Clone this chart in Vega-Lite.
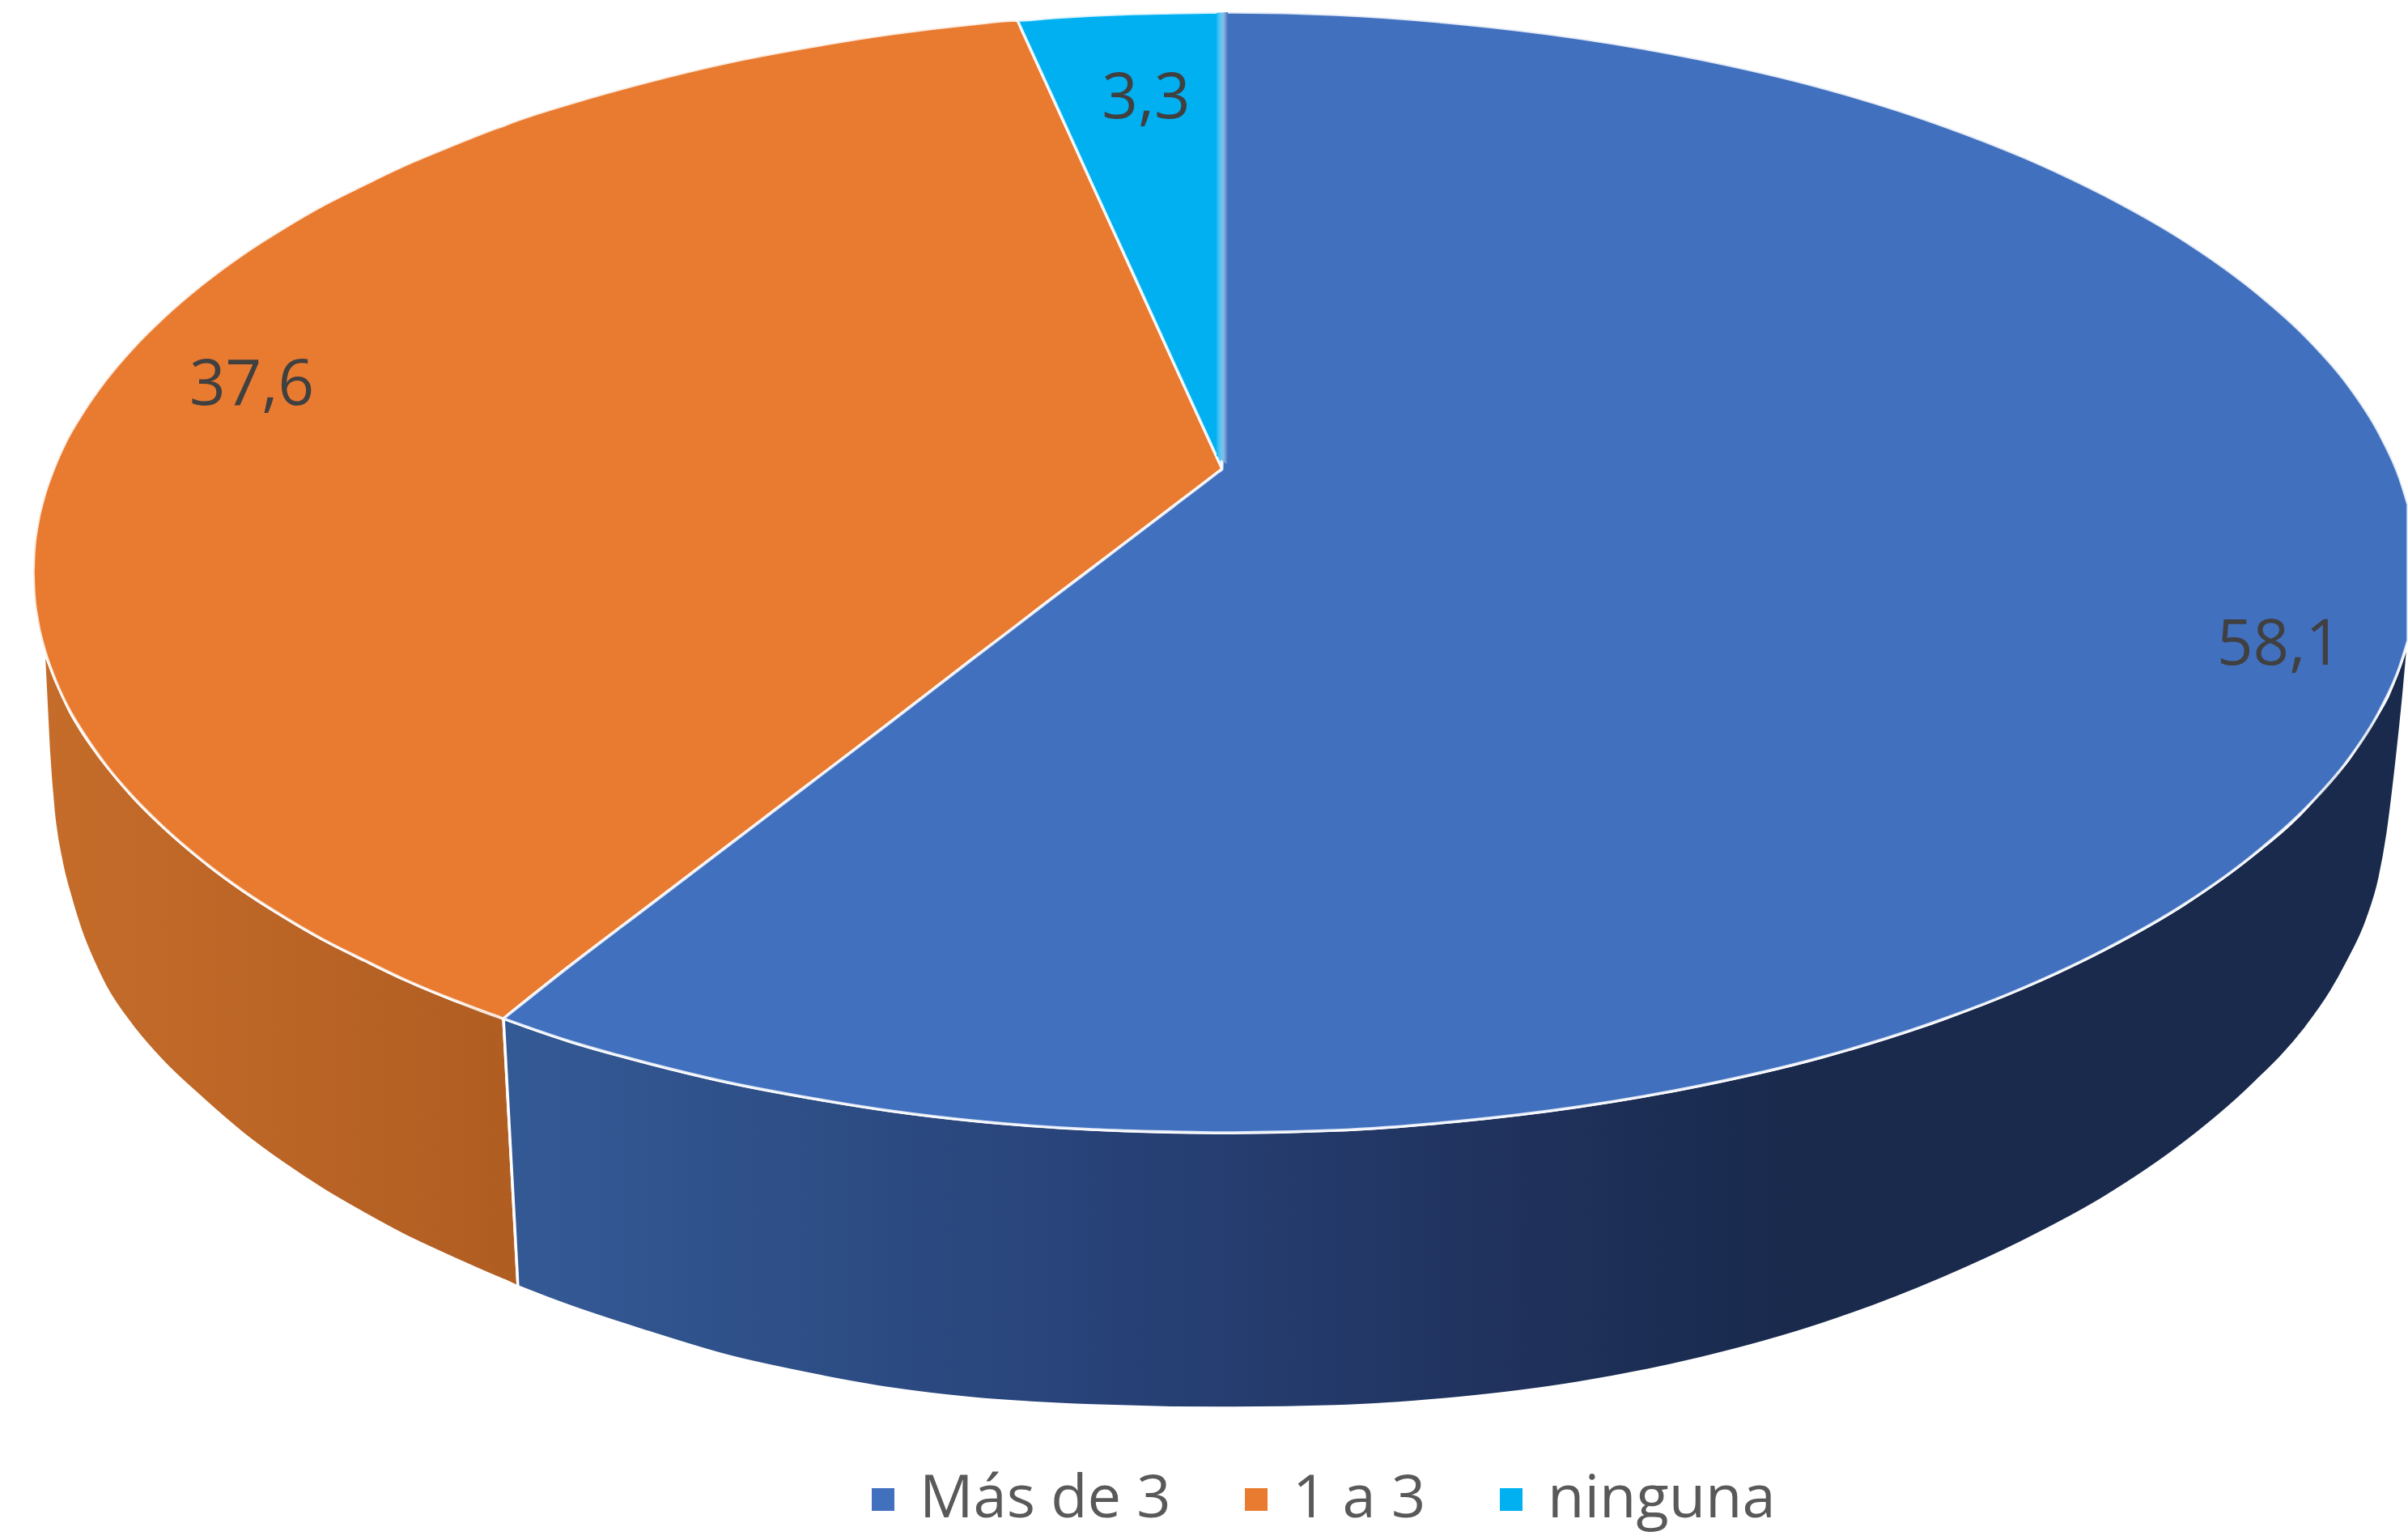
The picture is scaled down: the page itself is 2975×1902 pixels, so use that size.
{
"$schema":"https://vega.github.io/schema/vega-lite/v6.json",
"width":2975,"height":1902,"padding":0,"autosize":{"type":"none"},"background":"white",
"config":{"view":{"stroke":null}},
"datasets":{
"pared_naranja":[
{"x":54,"y":805,"y2":805},{"x":60,"y":818,"y2":925},{"x":66,"y":834,"y2":1002},{"x":76,"y":856,"y2":1065},{"x":87,"y":880,"y2":1108},{"x":100,"y":902,"y2":1150},{"x":115,"y":924,"y2":1187},{"x":130,"y":944,"y2":1218},{"x":163,"y":983,"y2":1267},{"x":200,"y":1020,"y2":1310},{"x":250,"y":1063,"y2":1357},{"x":300,"y":1100,"y2":1400},{"x":350,"y":1132,"y2":1437},{"x":400,"y":1161,"y2":1470},{"x":450,"y":1186,"y2":1499},{"x":500,"y":1210,"y2":1526},{"x":560,"y":1235,"y2":1554},{"x":622,"y":1258,"y2":1581},{"x":623,"y":1276,"y2":1581.4},{"x":639,"y":1571,"y2":1588.6},{"x":640,"y":1589,"y2":1589}],
"pared_azul":[
{"x":622,"y":1258,"y2":1258},{"x":623,"y":1258.3,"y2":1276},{"x":639,"y":1263.8,"y2":1571},{"x":640,"y":1264.1,"y2":1589},{"x":641,"y":1264.5,"y2":1589.4},{"x":700,"y":1285,"y2":1612},{"x":800,"y":1313,"y2":1645},{"x":900,"y":1337,"y2":1675},{"x":1000,"y":1356,"y2":1697},{"x":1100,"y":1372,"y2":1715},{"x":1200,"y":1384,"y2":1727},{"x":1350,"y":1395,"y2":1736},{"x":1508,"y":1399,"y2":1739},{"x":1650,"y":1396,"y2":1737},{"x":1800,"y":1385,"y2":1727},{"x":1950,"y":1367,"y2":1708},{"x":2100,"y":1341,"y2":1678},{"x":2250,"y":1306,"y2":1636},{"x":2400,"y":1259,"y2":1579},{"x":2500,"y":1220,"y2":1533},{"x":2600,"y":1173,"y2":1479},{"x":2700,"y":1116,"y2":1411},{"x":2780,"y":1059,"y2":1343},{"x":2850,"y":997,"y2":1268},{"x":2880,"y":961,"y2":1225},{"x":2900,"y":940,"y2":1189},{"x":2925,"y":900,"y2":1135},{"x":2940,"y":878,"y2":1085},{"x":2950,"y":860,"y2":1030},{"x":2960,"y":835,"y2":950},{"x":2970,"y":808,"y2":855},{"x":2975,"y":791,"y2":800}],
"cara":[
{"categoria":"1 a 3","x":41,"y":707,"y2":707},{"categoria":"1 a 3","x":42,"y":682,"y2":732},{"categoria":"1 a 3","x":46,"y":650,"y2":764},{"categoria":"1 a 3","x":54,"y":615,"y2":799},{"categoria":"1 a 3","x":66,"y":580,"y2":834},{"categoria":"1 a 3","x":82,"y":544,"y2":870},{"categoria":"1 a 3","x":102,"y":510,"y2":904},{"categoria":"1 a 3","x":130,"y":470,"y2":944},{"categoria":"1 a 3","x":163,"y":431,"y2":983},{"categoria":"1 a 3","x":200,"y":394,"y2":1020},{"categoria":"1 a 3","x":250,"y":351,"y2":1063},{"categoria":"1 a 3","x":300,"y":314,"y2":1100},{"categoria":"1 a 3","x":350,"y":282,"y2":1132},{"categoria":"1 a 3","x":400,"y":253,"y2":1161},{"categoria":"1 a 3","x":450,"y":228,"y2":1186},{"categoria":"1 a 3","x":500,"y":204,"y2":1210},{"categoria":"1 a 3","x":560,"y":179,"y2":1235},{"categoria":"1 a 3","x":616,"y":157,"y2":1256},{"categoria":"1 a 3","x":622,"y":155,"y2":1258},{"categoria":"1 a 3","x":627,"y":153,"y2":1254},{"categoria":"1 a 3","x":700,"y":129,"y2":1196},{"categoria":"1 a 3","x":800,"y":101,"y2":1120},{"categoria":"1 a 3","x":900,"y":77,"y2":1044},{"categoria":"1 a 3","x":1000,"y":58,"y2":968},{"categoria":"1 a 3","x":1100,"y":42,"y2":892},{"categoria":"1 a 3","x":1200,"y":30,"y2":815},{"categoria":"1 a 3","x":1257,"y":25,"y2":772},{"categoria":"1 a 3","x":1262,"y":36,"y2":768},{"categoria":"1 a 3","x":1350,"y":229,"y2":701},{"categoria":"1 a 3","x":1450,"y":448,"y2":625},{"categoria":"1 a 3","x":1510,"y":579,"y2":579},
{"categoria":"ninguna","x":1257,"y":25,"y2":25},{"categoria":"ninguna","x":1262,"y":25,"y2":36},{"categoria":"ninguna","x":1300,"y":22,"y2":119},{"categoria":"ninguna","x":1350,"y":19,"y2":229},{"categoria":"ninguna","x":1400,"y":17,"y2":338},{"categoria":"ninguna","x":1450,"y":16,"y2":448},{"categoria":"ninguna","x":1510,"y":15,"y2":579},
{"categoria":"Más de 3","x":622,"y":1258,"y2":1258},{"categoria":"Más de 3","x":627,"y":1254,"y2":1259.8},{"categoria":"Más de 3","x":700,"y":1196,"y2":1285},{"categoria":"Más de 3","x":800,"y":1120,"y2":1313},{"categoria":"Más de 3","x":900,"y":1044,"y2":1337},{"categoria":"Más de 3","x":1000,"y":968,"y2":1356},{"categoria":"Más de 3","x":1100,"y":892,"y2":1372},{"categoria":"Más de 3","x":1200,"y":815,"y2":1384},{"categoria":"Más de 3","x":1350,"y":701,"y2":1395},{"categoria":"Más de 3","x":1450,"y":625,"y2":1398},{"categoria":"Más de 3","x":1505,"y":583,"y2":1399},{"categoria":"Más de 3","x":1510,"y":579,"y2":1399},{"categoria":"Más de 3","x":1511,"y":15,"y2":1399},{"categoria":"Más de 3","x":1650,"y":18,"y2":1396},{"categoria":"Más de 3","x":1800,"y":29,"y2":1385},{"categoria":"Más de 3","x":1950,"y":47,"y2":1367},{"categoria":"Más de 3","x":2100,"y":73,"y2":1341},{"categoria":"Más de 3","x":2250,"y":108,"y2":1306},{"categoria":"Más de 3","x":2400,"y":155,"y2":1259},{"categoria":"Más de 3","x":2500,"y":194,"y2":1220},{"categoria":"Más de 3","x":2600,"y":241,"y2":1173},{"categoria":"Más de 3","x":2700,"y":298,"y2":1116},{"categoria":"Más de 3","x":2780,"y":355,"y2":1059},{"categoria":"Más de 3","x":2850,"y":417,"y2":997},{"categoria":"Más de 3","x":2900,"y":474,"y2":940},{"categoria":"Más de 3","x":2940,"y":536,"y2":878},{"categoria":"Más de 3","x":2965,"y":591,"y2":823},{"categoria":"Más de 3","x":2975,"y":623,"y2":791}],
"banda":[{"x":1503,"y":16,"y2":563},{"x":1517,"y":15,"y2":575}],
"etiquetas":[{"valor":"58,1","x":2816,"y":821},{"valor":"37,6","x":311,"y":500},{"valor":"3,3","x":1416,"y":146}]
},
"encoding":{
"x":{"field":"x","type":"quantitative","scale":{"domain":[0,2975],"nice":false,"zero":false},"axis":null},
"y":{"field":"y","type":"quantitative","scale":{"domain":[0,1902],"nice":false,"zero":false,"reverse":true},"axis":null}
},
"layer":[
{"data":{"name":"pared_naranja"},
"mark":{"type":"area","interpolate":"monotone","stroke":"white","strokeWidth":3.5,"fill":{"gradient":"linear","x1":0,"y1":0,"x2":1,"y2":0,"stops":[{"offset":0,"color":"#C56C2A"},{"offset":1,"color":"#B05D22"}]}},
"encoding":{"y2":{"field":"y2"}}},
{"data":{"name":"pared_azul"},
"mark":{"type":"area","interpolate":"monotone","stroke":"white","strokeWidth":3.5,"fill":{"gradient":"linear","x1":0,"y1":0,"x2":1,"y2":0,"stops":[{"offset":0,"color":"#345A96"},{"offset":0.33,"color":"#274176"},{"offset":0.55,"color":"#1F305A"},{"offset":0.68,"color":"#192A4D"},{"offset":1,"color":"#192A4D"}]}},
"encoding":{"y2":{"field":"y2"}}},
{"data":{"name":"cara"},
"mark":{"type":"area","interpolate":"monotone","stroke":"white","strokeWidth":3.5,"strokeOpacity":0.85},
"encoding":{"y2":{"field":"y2"},
"color":{"field":"categoria","type":"nominal","scale":{"domain":["Más de 3","1 a 3","ninguna"],"range":["#4170BF","#E97B31","#00B0F0"]},
"legend":{"orient":"none","legendX":1054,"legendY":1815,"direction":"horizontal","columns":3,"title":null,"symbolType":"square","symbolSize":784,"symbolStrokeWidth":0,"labelFont":"Open Sans","labelFontSize":74,"labelColor":"#595959","labelOffset":8,"labelLimit":600,"columnPadding":68,"padding":0}}}},
{"data":{"name":"banda"},
"mark":{"type":"area","fill":{"gradient":"linear","x1":0,"y1":0,"x2":1,"y2":0,"stops":[{"offset":0,"color":"#1FB8F1"},{"offset":0.4,"color":"#62C9F3"},{"offset":0.65,"color":"#8AB4E0"},{"offset":1,"color":"#4170BF"}]}},
"encoding":{"y2":{"field":"y2"}}},
{"data":{"name":"etiquetas"},
"mark":{"type":"text","font":"Open Sans","fontSize":78,"color":"#404040","align":"center","baseline":"alphabetic"},
"encoding":{"text":{"field":"valor","type":"nominal"}}}
]
}
